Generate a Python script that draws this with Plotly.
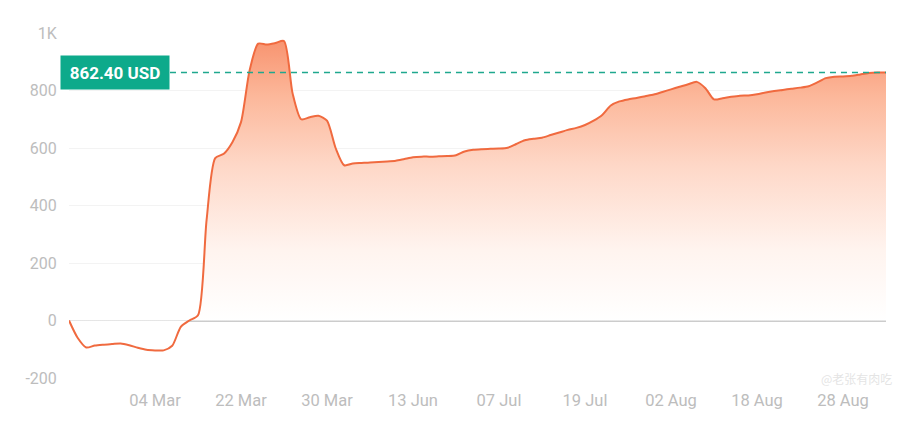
import plotly.graph_objects as go

# Profit/loss series (USD), one value per trading point
values = [
    0, -60, -94, -87, -84, -82, -80, -86, -95, -102,
    -104, -104, -88, -22, 0, 18, 350, 565, 580, 620,
    690, 870, 963, 960, 965, 972, 790, 700, 707, 712,
    695, 600, 540, 546, 548, 550, 551, 553, 556, 562,
    568, 570, 570, 571, 572, 575, 588, 594, 596, 597,
    598, 601, 614, 627, 632, 636, 645, 654, 663, 670,
    680, 695, 715, 748, 762, 769, 774, 780, 786, 795,
    804, 813, 822, 830, 808, 769, 773, 778, 782, 783,
    787, 793, 798, 802, 806, 810, 815, 828, 843, 848,
    849, 851, 856, 861, 863, 862.4,
]
x_index = list(range(len(values)))

tick_positions = [10, 20, 30, 40, 50, 60, 70, 80, 90]
tick_labels = ["04 Mar", "22 Mar", "30 Mar", "13 Jun", "07 Jul",
               "19 Jul", "02 Aug", "18 Aug", "28 Aug"]

y_tickvals = [-200, 0, 200, 400, 600, 800, 1000]
y_ticktext = ["-200", "0", "200", "400", "600", "800", "1K"]

current_value = 862.40
current_label = "862.40 USD"
watermark = "@老张有肉吃"

FONT = "Roboto, Lato, sans-serif"
TICK_COLOR = "#bdbdbd"

fig = go.Figure()
fig.add_trace(go.Scatter(
    x=x_index, y=values,
    mode="lines",
    line=dict(color="#F06A3F", width=2, shape="spline", smoothing=0.7),
    fill="tozeroy",
    fillgradient=dict(
        type="vertical",
        start=0, stop=max(values),
        colorscale=[
            [0.0, "rgba(255,255,255,1)"],
            [0.25, "rgba(255,244,239,1)"],
            [0.55, "rgba(254,216,200,1)"],
            [0.8, "rgba(252,184,155,1)"],
            [1.0, "rgba(248,148,112,1)"],
        ],
    ),
    hoverinfo="skip",
    showlegend=False,
))

fig.add_shape(
    type="line", xref="paper", yref="y",
    x0=0.1236, x1=1.0, y0=current_value, y1=current_value,
    line=dict(color="#1FA88E", width=1.5, dash="6px,5px"),
)

fig.add_annotation(
    xref="paper", yref="y", x=0.1236, y=current_value,
    xanchor="right", yanchor="middle",
    text="<b>" + current_label + "</b>",
    showarrow=False,
    font=dict(family=FONT, size=17, color="white"),
    bgcolor="#0EAA8B",
    width=100, height=25, borderpad=4,
    align="center",
)

fig.add_annotation(
    xref="paper", yref="paper", x=1.01, y=0.03,
    xanchor="right", yanchor="top",
    text=watermark, showarrow=False,
    font=dict(family="Noto Sans CJK SC", size=12, color="rgba(225,225,225,0.9)"),
)

fig.update_layout(
    width=894, height=413,
    margin=dict(l=61, r=16, t=25, b=43, autoexpand=False),
    paper_bgcolor="white", plot_bgcolor="white",
    font=dict(family=FONT, color=TICK_COLOR, size=16),
    xaxis=dict(
        range=[0, len(values) - 1],
        tickvals=tick_positions, ticktext=tick_labels,
        showgrid=False, zeroline=False, showline=False,
        ticks="outside", ticklen=7, tickcolor="rgba(0,0,0,0)",
        tickfont=dict(family=FONT, size=16.5, color=TICK_COLOR),
        automargin=False,
        fixedrange=True,
    ),
    yaxis=dict(
        range=[-200, 1000],
        tickvals=y_tickvals, ticktext=y_ticktext,
        showgrid=True, gridcolor="#f3f3f3", gridwidth=1,
        zeroline=True, zerolinecolor="#cccccc", zerolinewidth=1.5,
        showline=False,
        ticks="outside", ticklen=8, tickcolor="rgba(0,0,0,0)",
        tickfont=dict(family=FONT, size=16, color=TICK_COLOR),
        automargin=False,
        fixedrange=True,
    ),
)

fig.write_html("out.html")
